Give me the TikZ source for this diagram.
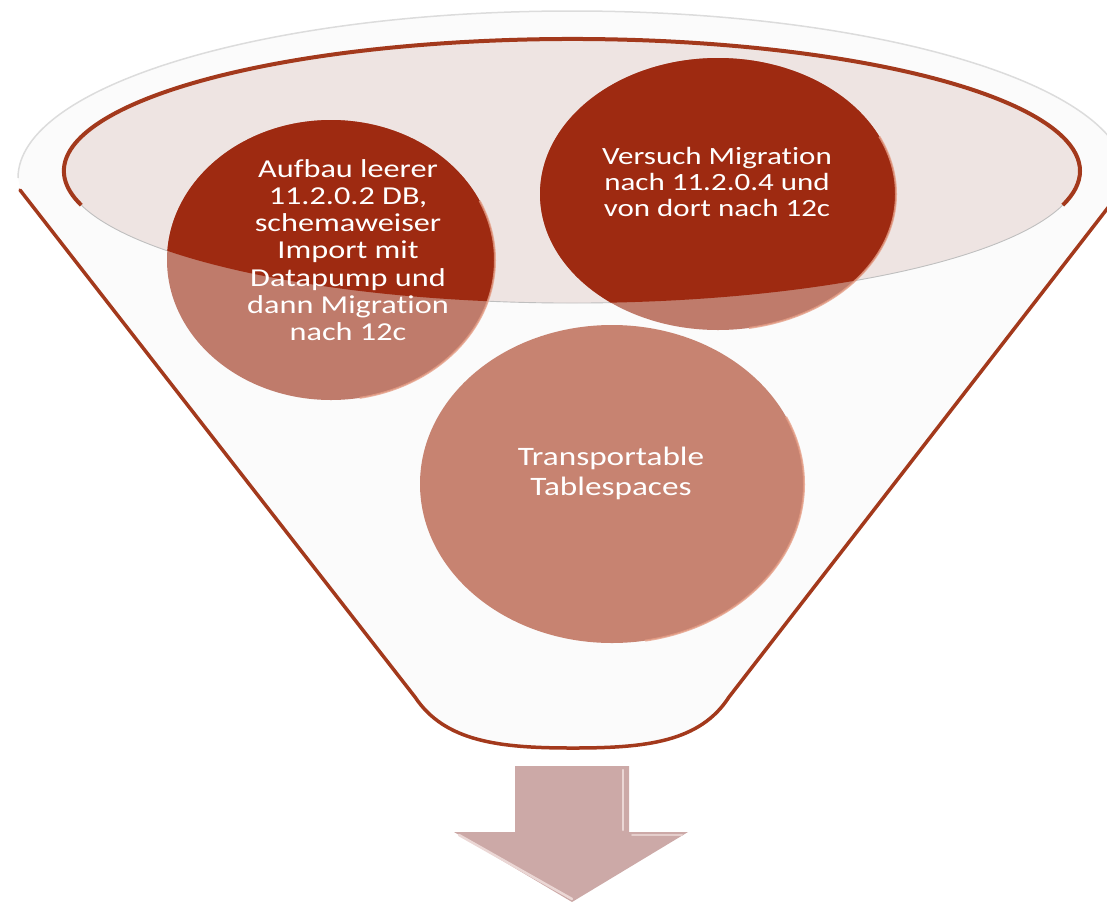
\documentclass[tikz,border=0pt]{standalone}
\usepackage{fontspec}
\newfontfamily\cfont[FakeStretch=1.25,RawFeature={-liga;-clig;-calt;-dlig}]{Carlito}
\newcommand{\nolig}{\kern0pt\relax}
\definecolor{darkred}{HTML}{9E2A11}
\definecolor{lightA}{HTML}{BF7B6B}
\definecolor{lightC}{HTML}{C78371}
\definecolor{funnelred}{HTML}{A3391C}
\definecolor{innerfill}{HTML}{EEE4E2}
\definecolor{arrowfill}{HTML}{CCA9A7}
\definecolor{arrowlight}{HTML}{EBD7D5}
\definecolor{rimgray}{HTML}{DCDCDC}
\definecolor{edgelight}{HTML}{E59E86}
\definecolor{bodyfill}{HTML}{FBFBFB}
\tikzset{
  lbl/.style={text=white, align=center, inner sep=0pt},
  edgehl/.style={draw=edgelight, line width=2pt, draw opacity=0.8},
}
\begin{document}
\begin{tikzpicture}[x=1pt,y=-1pt]
\useasboundingbox (0,0) rectangle (1107,903);
\clip (0,0) rectangle (1107,903);
% funnel body
\fill[bodyfill] (20,187) -- (415,697)
  .. controls (445,742) and (500,748) .. (573,748)
  .. controls (646,748) and (700,742) .. (729,697)
  -- (1124,187) -- (1126,178)
  arc[start angle=0,end angle=180,x radius=554pt,y radius=167pt] -- cycle;
% outer rim edge
\draw[rimgray, line width=1.5pt] (1126,178)
  arc[start angle=0,end angle=180,x radius=554pt,y radius=167pt];
% red sides and bottom
\draw[funnelred, line width=3.5pt, line cap=round, line join=round]
  (20,190) -- (415,697)
  .. controls (445,742) and (500,748) .. (573,748)
  .. controls (646,748) and (700,742) .. (729,697) -- (1124,187);
% inner ellipse
\fill[innerfill] (572,171) ellipse[x radius=508pt,y radius=132pt];
\draw[funnelred, line width=4pt] (572,171) ++(195:508pt and 132pt)
  arc[start angle=195,end angle=-15,x radius=508pt,y radius=132pt];
\draw[gray!50, line width=0.9pt] (572,171) ++(-15:508pt and 132pt)
  arc[start angle=-15,end angle=-165,x radius=508pt,y radius=132pt];
% circles (under translucent front)
\fill[lightA] (331,260) ellipse[x radius=164pt,y radius=140pt];
\fill[lightA] (718,194) ellipse[x radius=178pt,y radius=136pt];
\fill[lightC] (612,484) ellipse[x radius=192pt,y radius=159pt];
\begin{scope}
  \clip (572,171) ellipse[x radius=508pt,y radius=132pt];
  \fill[darkred] (331,260) ellipse[x radius=164pt,y radius=140pt];
  \fill[darkred] (718,194) ellipse[x radius=178pt,y radius=136pt];
\end{scope}
% edge highlights
\draw[edgehl] (331,260) ++(-80:164pt and 140pt)
  arc[start angle=-80,end angle=25,x radius=164pt,y radius=140pt];
\draw[edgehl] (718,194) ++(-80:178pt and 136pt)
  arc[start angle=-80,end angle=25,x radius=178pt,y radius=136pt];
\draw[edgehl] (612,484) ++(-80:192pt and 159pt)
  arc[start angle=-80,end angle=25,x radius=192pt,y radius=159pt];
% texts
\node[lbl, font=\cfont\fontsize{25.8}{27.2}\selectfont] (a) at (348,250)
  {Aufbau leerer\\11.2.0.2 DB,\\schemaweiser\\Import mit\\Datapump und\\dann Migrat\nolig ion\\nach 12c};
\node[lbl, font=\cfont\fontsize{24.8}{26}\selectfont] (b) at (717,182)
  {Versuch Migrat\nolig ion\\nach 11.2.0.4 und\\von dort nach 12c};
\node[lbl, font=\cfont\fontsize{26.6}{30}\selectfont] (c) at (611,473)
  {Transportable\\Tablespaces};
% arrow
\fill[arrowfill] (515,766) -- (629,766) -- (629,832) -- (688,832)
  -- (572,902) -- (454,832) -- (515,832) -- cycle;
\draw[arrowlight, line width=2.5pt, line cap=round] (459,835) -- (572,899);
\draw[arrowlight, line width=2.5pt, line cap=round] (623,770) -- (623,830);
\draw[arrowlight!80!arrowfill, line width=2pt, line cap=round] (632,835) -- (682,835);
\end{tikzpicture}
\end{document}
